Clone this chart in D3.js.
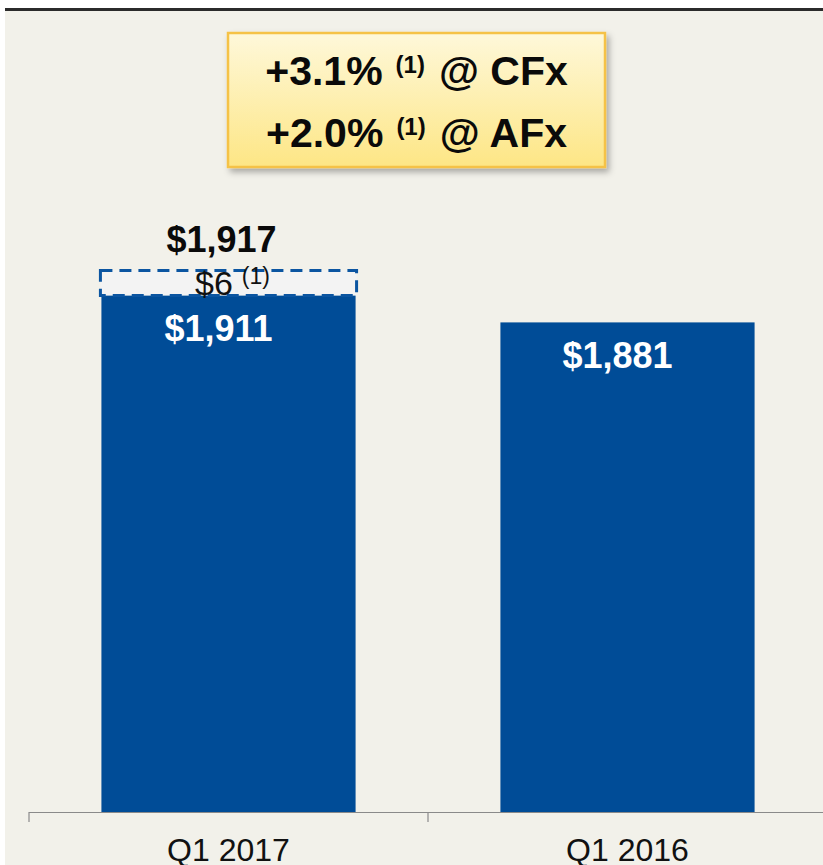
<!DOCTYPE html>
<html>
<head>
<meta charset="utf-8">
<script src="https://cdn.jsdelivr.net/npm/d3@7"></script>
<style>
  html, body { margin: 0; padding: 0; background: #fff; }
  svg { display: block; font-family: "Liberation Sans", Arial, sans-serif; }
</style>
</head>
<body>
<div id="chart"></div>
<script>
// chart values
const categories = ["Q1 2017", "Q1 2016"];
const revenue = [1911, 1881];
const fxAdjust = [6, 0];
const barLabels = ["$1,911", "$1,881"];
const totalLabel = "$1,917";
const adjustLabel = "$6";
const calloutLines = [
    { value: "+3.1%", note: "(1)", tail: "@ CFx" },
    { value: "+2.0%", note: "(1)", tail: "@ AFx" }
];

const width = 823, height = 865;
const baseline = 812;

const svg = d3.select("#chart").append("svg")
    .attr("width", width)
    .attr("height", height);

// background + top rule
svg.append("rect").attr("x", 5).attr("y", 9).attr("width", width - 5).attr("height", height - 9)
    .attr("fill", "#f2f1ea");
svg.append("rect").attr("x", 5).attr("y", 8).attr("width", width - 5).attr("height", 3)
    .attr("fill", "#2b2b2b");

const defs = svg.append("defs");
const grad = defs.append("linearGradient").attr("id", "callGrad")
    .attr("x1", 0).attr("y1", 0).attr("x2", 0).attr("y2", 1);
grad.append("stop").attr("offset", "0%").attr("stop-color", "#fef8da");
grad.append("stop").attr("offset", "100%").attr("stop-color", "#fde685");
const shadow = defs.append("filter").attr("id", "shadow")
    .attr("x", "-10%").attr("y", "-10%").attr("width", "130%").attr("height", "140%");
shadow.append("feDropShadow").attr("dx", 3).attr("dy", 4).attr("stdDeviation", 3)
    .attr("flood-color", "#000").attr("flood-opacity", 0.3);

// scales
const x = d3.scaleBand()
    .domain(categories)
    .range([29, 827])
    .paddingInner(0.363)
    .paddingOuter(0.1815);

const y = d3.scaleLinear()
    .domain([1337, 2000])
    .range([baseline, 215.3]);

// bars
svg.selectAll(".bar")
    .data(categories)
    .join("rect")
    .attr("class", "bar")
    .attr("x", d => x(d))
    .attr("width", x.bandwidth())
    .attr("y", (d, i) => y(revenue[i]))
    .attr("height", (d, i) => baseline - y(revenue[i]))
    .attr("fill", "#004c97");

// fx adjustment (dashed box, not to scale in the original)
const adjH = 25;
const adj = categories.map((c, i) => ({ c, i })).filter(d => fxAdjust[d.i] > 0);
svg.selectAll(".adj")
    .data(adj)
    .join("rect")
    .attr("class", "adj")
    .attr("x", d => x(d.c) - 1)
    .attr("width", x.bandwidth() + 2)
    .attr("y", d => y(revenue[d.i]) - adjH)
    .attr("height", adjH)
    .attr("fill", "#f3f3f3")
    .attr("stroke", "#0b55a1")
    .attr("stroke-width", 3)
    .attr("stroke-dasharray", "12,7");

adj.forEach(d => {
    const cx = x(d.c) + x.bandwidth() / 2;
    const top = y(revenue[d.i]) - adjH;
    const t = svg.append("text")
        .attr("x", cx + 4)
        .attr("y", top + 25)
        .attr("text-anchor", "middle")
        .attr("font-size", 34)
        .attr("fill", "#111");
    t.append("tspan").text(adjustLabel);
    t.append("tspan").attr("font-size", 23).attr("dx", 9).attr("dy", -11).text("(1)");

    svg.append("text")
        .attr("x", cx - 7)
        .attr("y", top - 18)
        .attr("text-anchor", "middle")
        .attr("font-size", 36)
        .attr("font-weight", "bold")
        .attr("fill", "#0a0a0a")
        .text(totalLabel);
});

// value labels inside bars
svg.selectAll(".val")
    .data(categories)
    .join("text")
    .attr("class", "val")
    .attr("x", d => x(d) + x.bandwidth() / 2 - 10)
    .attr("y", (d, i) => y(revenue[i]) + 46)
    .attr("text-anchor", "middle")
    .attr("font-size", 36)
    .attr("font-weight", "bold")
    .attr("fill", "#fff")
    .text((d, i) => barLabels[i]);

// x axis
const axisScale = d3.scalePoint().domain([0, 1, 2]).range([29, 827]);
const axis = svg.append("g").attr("transform", `translate(0,${baseline})`);
axis.append("line").attr("x1", 29).attr("x2", width).attr("y1", 0.5).attr("y2", 0.5)
    .attr("stroke", "#8a8a8a").attr("stroke-width", 1.2);
axis.selectAll(".tick")
    .data(axisScale.domain())
    .join("line")
    .attr("x1", d => axisScale(d)).attr("x2", d => axisScale(d))
    .attr("y1", 0).attr("y2", 10)
    .attr("stroke", "#8a8a8a").attr("stroke-width", 1.2);
axis.selectAll(".lab")
    .data(categories)
    .join("text")
    .attr("x", d => x(d) + x.bandwidth() / 2)
    .attr("y", 49)
    .attr("text-anchor", "middle")
    .attr("font-size", 32)
    .attr("fill", "#111")
    .text(d => d);

// callout box
const box = svg.append("g").attr("transform", "translate(228,33)");
box.append("rect")
    .attr("width", 377).attr("height", 134)
    .attr("fill", "url(#callGrad)")
    .attr("stroke", "#f5c246").attr("stroke-width", 2.5)
    .attr("filter", "url(#shadow)");
calloutLines.forEach((l, i) => {
    const t = box.append("text")
        .attr("x", 188.5)
        .attr("y", 52 + i * 62)
        .attr("text-anchor", "middle")
        .attr("font-size", 41)
        .attr("font-weight", "bold")
        .attr("fill", "#0a0a0a");
    t.append("tspan").text(l.value);
    t.append("tspan").attr("font-size", 24).attr("dx", 13).attr("dy", -12).text(l.note);
    t.append("tspan").attr("dx", 14).attr("dy", 12).text(l.tail);
});
</script>
</body>
</html>
